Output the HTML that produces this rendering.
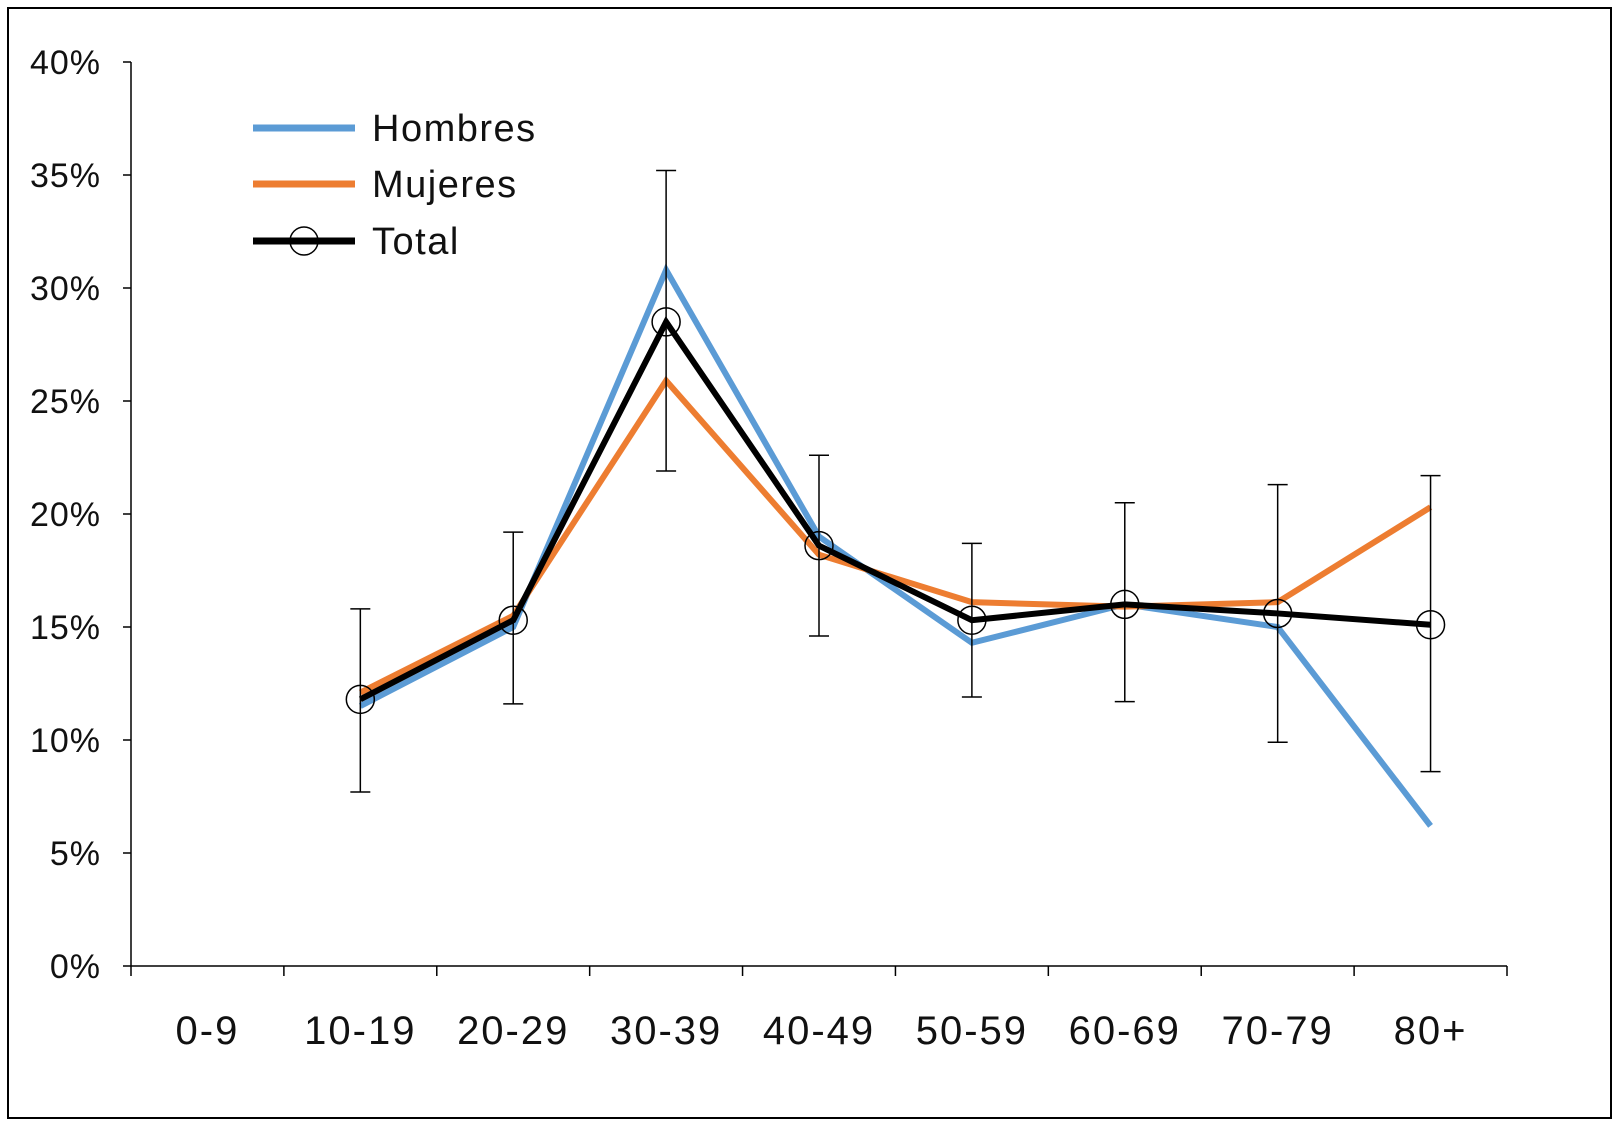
<!DOCTYPE html>
<html><head><meta charset="utf-8"><style>
html,body{margin:0;padding:0;background:#fff;}
svg{display:block;font-family:"Liberation Sans",sans-serif;}
</style></head><body>
<svg id="chart" width="1619" height="1128" viewBox="0 0 1619 1128">
<rect x="8" y="8" width="1603" height="1110" fill="#fff" stroke="#000" stroke-width="2"/>
<g id="axes"></g><g id="series"></g><g id="legend"></g>
</svg>
<script>
const categories = ["0-9","10-19","20-29","30-39","40-49","50-59","60-69","70-79","80+"];
const hombres = [null,11.5,15.0,30.8,19.0,14.3,16.0,15.0,6.2];
const mujeres = [null,12.1,15.5,25.9,18.2,16.1,15.9,16.1,20.3];
const total = [null,11.8,15.3,28.5,18.6,15.3,16.0,15.6,15.1];
const errUpper = [null,15.8,19.2,35.2,22.6,18.7,20.5,21.3,21.7];
const errLower = [null,7.7,11.6,21.9,14.6,11.9,11.7,9.9,8.6];
const yTicks = [0,5,10,15,20,25,30,35,40];

const NS="http://www.w3.org/2000/svg";
const X0=131,X1=1507,Y0=966,Y1=62;
const band=(X1-X0)/categories.length;
const xs=i=>X0+band*(i+0.5);
const ys=v=>Y0-(v/40)*(Y0-Y1);
function mk(tag,attrs,parent){const e=document.createElementNS(NS,tag);for(const k in attrs)e.setAttribute(k,attrs[k]);parent.appendChild(e);return e;}
const axes=document.getElementById('axes'),series=document.getElementById('series'),legend=document.getElementById('legend');

let yl=mk('line',{x1:X0,y1:Y1,x2:X0,y2:Y0,stroke:'#000','stroke-width':1.5},axes);


let xl=mk('line',{x1:X0,y1:Y0,x2:X1,y2:Y0,stroke:'#000','stroke-width':1.5},axes);


yTicks.forEach(t=>{
  const y=ys(t);
  const tk=mk('line',{x1:X0-8,y1:y,x2:X0,y2:y,stroke:'#000','stroke-width':1.5},axes);
  
  
  const tx=mk('text',{x:101,y:y+12,'text-anchor':'end','font-size':34,'letter-spacing':1,fill:'#111'},axes);
  tx.textContent=t+'%';
  
  
});
for(let i=0;i<=categories.length;i++){
  const x=X0+band*i;
  const tk=mk('line',{x1:x,y1:Y0,x2:x,y2:Y0+10,stroke:'#000','stroke-width':1.5},axes);
  
  
}
categories.forEach((c,i)=>{
  const tx=mk('text',{x:xs(i),y:1044,'text-anchor':'middle','font-size':40,'letter-spacing':2,fill:'#111'},axes);
  tx.textContent=c;
  
  
});

function line(data,color,w,name){
  const pts=[];data.forEach((v,i)=>{if(v!=null)pts.push(xs(i)+','+ys(v));});
  const p=mk('polyline',{points:pts.join(' '),fill:'none',stroke:color,'stroke-width':w,'stroke-linejoin':'miter'},series);
  
  
}
line(hombres,'#5b9bd5',6,'hombres-line');
line(mujeres,'#ed7d31',6,'mujeres-line');
errUpper.forEach((u,i)=>{
  if(u==null)return;
  const x=xs(i),l=errLower[i];
  const g=mk('g',{stroke:'#000','stroke-width':1.5},series);
  
  
  mk('line',{x1:x,y1:ys(u),x2:x,y2:ys(l)},g);
  mk('line',{x1:x-10,y1:ys(u),x2:x+10,y2:ys(u)},g);
  mk('line',{x1:x-10,y1:ys(l),x2:x+10,y2:ys(l)},g);
});
line(total,'#000',6,'total-line');
total.forEach((v,i)=>{
  if(v==null)return;
  const c=mk('circle',{cx:xs(i),cy:ys(v),r:14,fill:'none',stroke:'#000','stroke-width':1.5},series);
  
  
});

const leg=[["Hombres","#5b9bd5",128,false],["Mujeres","#ed7d31",184,false],["Total","#000",241,true]];
leg.forEach(([n,c,y,m])=>{
  const g=mk('g',{},legend);
  
  
  mk('line',{x1:253,y1:y,x2:355,y2:y,stroke:c,'stroke-width':7},g);
  if(m)mk('circle',{cx:304,cy:y,r:14,fill:'none',stroke:'#000','stroke-width':1.5},g);
  const t=mk('text',{x:372,y:y+13,'font-size':38,'letter-spacing':1.5,fill:'#111'},g);
  t.textContent=n;
});
</script>
</body></html>
